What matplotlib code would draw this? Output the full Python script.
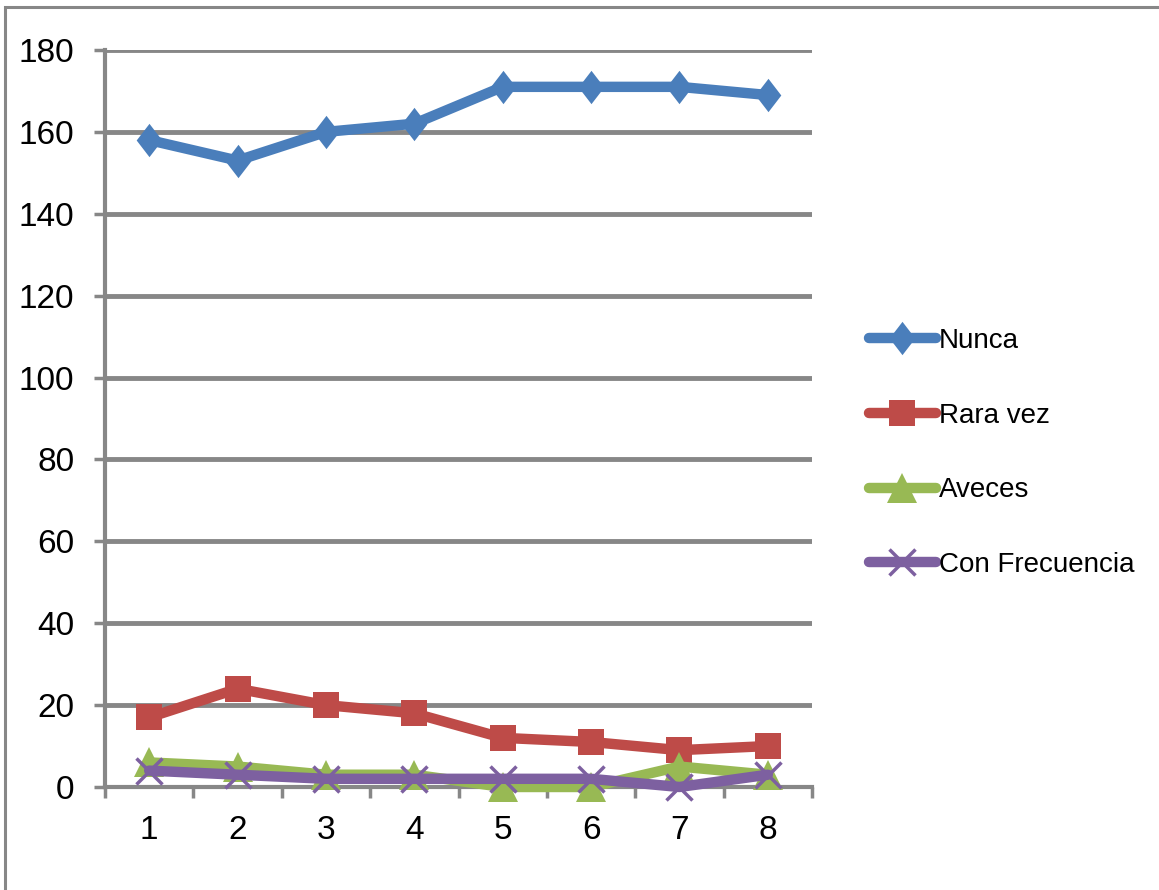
import matplotlib
matplotlib.use('Agg')
import matplotlib.pyplot as plt
from matplotlib.patches import Rectangle

plt.rcParams['font.family'] = ['Liberation Sans Narrow', 'Liberation Sans', 'DejaVu Sans']

categories = [1, 2, 3, 4, 5, 6, 7, 8]
nunca = [158, 153, 160, 162, 171, 171, 171, 169]
rara_vez = [17, 24, 20, 18, 12, 11, 9, 10]
aveces = [6, 5, 3, 3, 0, 0, 5, 3]
con_frecuencia = [4, 3, 2, 2, 2, 2, 0, 3]
y_ticks = [0, 20, 40, 60, 80, 100, 120, 140, 160, 180]

GRAY = '#878787'
W, H = 1159, 890

fig = plt.figure(figsize=(W / 100, H / 100), dpi=100)
ax = fig.add_axes([105 / W, 1 - 787 / H, (812 - 105) / W, (787 - 50) / H])

# tall diamond like the spreadsheet default
diamond = [(0, 1.3), (1, 0), (0, -1.3), (-1, 0), (0, 1.3)]

series = [
    ('Nunca', nunca, '#4A7EBB', diamond, 24),
    ('Rara vez', rara_vez, '#BE4B48', 's', 19),
    ('Aveces', aveces, '#98B954', '^', 21),
    ('Con Frecuencia', con_frecuencia, '#7D60A0', 'x', 19),
]
for name, vals, col, mk, ms in series:
    ax.plot(categories, vals, color=col, linewidth=7.5, marker=mk, markersize=ms,
            markeredgewidth=2.5 if mk == 'x' else 0, markerfacecolor=col,
            markeredgecolor=col, label=name, solid_capstyle='round',
            solid_joinstyle='round', clip_on=False, zorder=3)

ax.set_xlim(0.5, 8.5)
ax.set_ylim(0, 180)
ax.set_yticks(y_ticks)
ax.set_xticks(categories)
ax.set_xticks([c + 0.5 for c in [0] + categories], minor=True)
ax.tick_params(axis='x', which='major', length=0, pad=20, labelsize=24)
ax.tick_params(axis='x', which='minor', length=8, width=2.5, color=GRAY, direction='out')
ax.tick_params(axis='y', length=8, width=2.5, color=GRAY, pad=14, labelsize=24)

ax.grid(axis='y', color=GRAY, linewidth=3.5, zorder=1)
ax.set_axisbelow(True)
for s in ['top', 'right']:
    ax.spines[s].set_visible(False)
for s in ['left', 'bottom']:
    ax.spines[s].set_color(GRAY)
    ax.spines[s].set_linewidth(3)

fig.legend(loc='upper left', bbox_to_anchor=(858 / W, 1 - 317 / H), frameon=False,
           fontsize=20, handlelength=2.4, handletextpad=0.12, labelspacing=1.75,
           borderaxespad=0)

# outer chart frame
fig.patches.append(Rectangle((5 / W, -0.02), 1.1, 1 - 7 / H + 0.02, transform=fig.transFigure,
                             fill=False, edgecolor=GRAY, linewidth=2.2, clip_on=False))

fig.savefig('out.png', dpi=100, facecolor='white')
